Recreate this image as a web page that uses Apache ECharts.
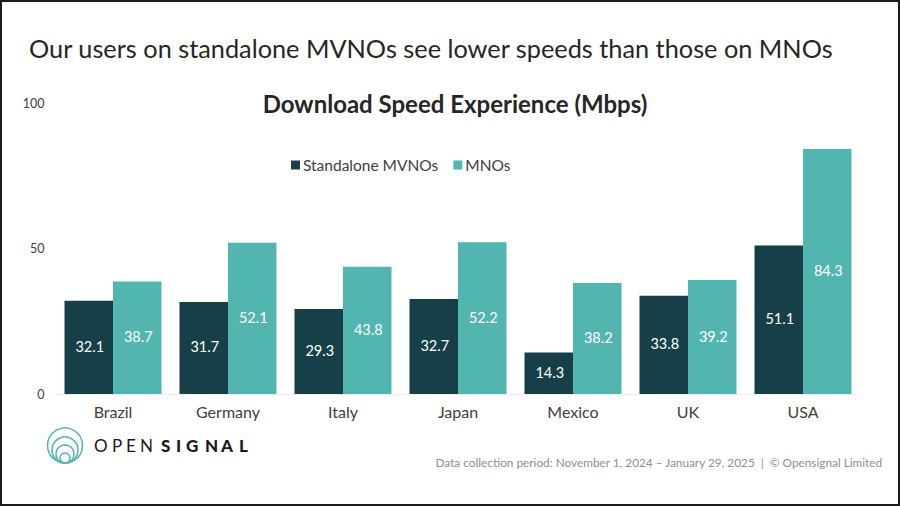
<!DOCTYPE html>
<html>
<head>
<meta charset="utf-8">
<style>
html, body {margin: 0; padding: 0; background: #fff;}
#main {width: 900px; height: 506px;}
</style>
<script src="https://cdn.jsdelivr.net/npm/echarts@6/dist/echarts.min.js"></script>
</head>
<body>
<div id="main"></div>
<script>
const categories = ['Brazil', 'Germany', 'Italy', 'Japan', 'Mexico', 'UK', 'USA'];
const mvno_values = [32.1, 31.7, 29.3, 32.7, 14.3, 33.8, 51.1];
const mno_values = [38.7, 52.1, 43.8, 52.2, 38.2, 39.2, 84.3];
const font = 'Lato';
const teal = '#52b5b0';
const label_style = {show: true, position: 'inside', color: '#fff', fontSize: 14.5, fontFamily: font, offset: [1, -1], formatter: p => p.value.toFixed(1)};

// logo wordmark, left edge of each letter
const logo_letters = [
    ['O', 94, 400], ['P', 112, 400], ['E', 126, 400], ['N', 140, 400],
    ['S', 161, 900], ['I', 176, 900], ['G', 186, 900], ['N', 205, 900], ['A', 221, 900], ['L', 239, 900],
];
const logo_rings = [[445.5, 17.5], [450, 13], [454, 9], [458, 5]];

let chart = echarts.init(document.getElementById('main'), null, {renderer: 'svg'});
chart.setOption({
    animation: false,
    backgroundColor: '#fff',
    title: [
        {text: 'Our users on standalone MVNOs see lower speeds than those on MNOs', left: 24, top: 30,
            textStyle: {fontFamily: font, fontSize: 25.3, fontWeight: 'normal', color: '#262626'}},
        {text: 'Download Speed Experience (Mbps)', left: 450, top: 86, textAlign: 'center',
            textStyle: {fontFamily: font, fontSize: 24, fontWeight: 'bold', color: '#262626'}},
        {text: 'Data collection period: November 1, 2024 – January 29, 2025  |  © Opensignal Limited', right: 12, top: 451,
            textStyle: {fontFamily: font, fontSize: 11.8, fontWeight: 'normal', color: '#8a9093'}},
    ],
    legend: {
        top: 152, left: 286, itemWidth: 9, itemHeight: 9, itemGap: 15, icon: 'rect',
        textStyle: {fontFamily: font, fontSize: 15.5, color: '#404040', padding: [0, 0, 0, -2]},
        data: ['Standalone MVNOs', 'MNOs'],
    },
    grid: {left: 55.5, right: 39.5, top: 103.5, bottom: 112},
    xAxis: {
        type: 'category', data: categories,
        axisLine: {show: true, lineStyle: {color: '#eeeeee'}}, axisTick: {show: false},
        axisLabel: {fontFamily: font, fontSize: 16, color: '#404040', margin: 9},
    },
    yAxis: {
        type: 'value', min: 0, max: 100, interval: 50,
        axisLine: {show: false}, axisTick: {show: false}, splitLine: {show: false},
        axisLabel: {fontFamily: font, fontSize: 12.5, color: '#404040', margin: 11},
    },
    series: [
        {name: 'Standalone MVNOs', type: 'bar', data: mvno_values, barWidth: 48.5, barGap: 0,
            itemStyle: {color: '#173f47'}, label: label_style},
        {name: 'MNOs', type: 'bar', data: mno_values, barWidth: 48.5,
            itemStyle: {color: teal}, label: label_style},
    ],
    graphic: [
        {type: 'rect', shape: {x: 1, y: 1, width: 898, height: 504}, style: {fill: 'none', stroke: '#1a1a1a', lineWidth: 2}},
        ...logo_rings.map(r => ({type: 'circle', shape: {cx: 65, cy: r[0], r: r[1]}, style: {fill: 'none', stroke: teal, lineWidth: 1.5}})),
        ...logo_letters.map(l => ({
            type: 'text', x: l[1], y: 445,
            style: {text: l[0], font: l[2] + ' 17px Lato', fill: '#1a1a1a', verticalAlign: 'middle'},
        })),
    ],
});
</script>
</body>
</html>
